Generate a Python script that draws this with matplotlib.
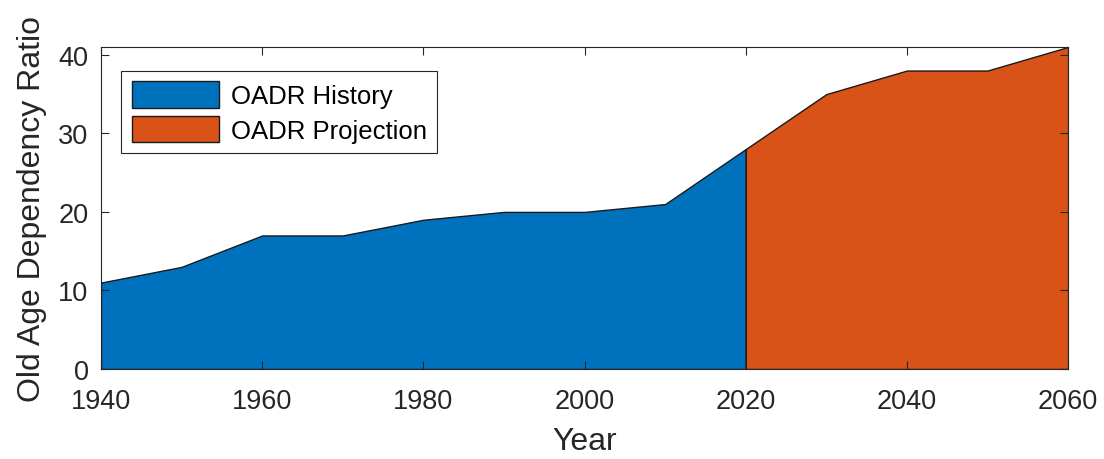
import numpy as np
import matplotlib.pyplot as plt

plt.rcParams['font.family'] = ['Liberation Sans', 'DejaVu Sans']

# history and projection of the old age dependency ratio
history_years = [1940, 1950, 1960, 1970, 1980, 1990, 2000, 2010, 2020]
history_oadr = [11, 13, 17, 17, 19, 20, 20, 21, 28]
projection_years = [2020, 2030, 2040, 2050, 2060]
projection_oadr = [28, 35, 38, 38, 41]

figure = plt.figure(figsize=(11.04, 4.6), dpi=100)
axis = figure.add_axes([0.0915, 0.1957, 0.876, 0.70])

axis.fill_between(history_years, history_oadr, 0, facecolor='#0072BD',
                  edgecolor='#1a1a1a', lw=1.0, label='OADR History')
axis.fill_between(projection_years, projection_oadr, 0, facecolor='#D95319',
                  edgecolor='#1a1a1a', lw=1.0, label='OADR Projection')

axis.set_xlim(1940, 2060)
axis.set_ylim(0, 41)
axis.set_xticks(range(1940, 2061, 20))
axis.set_yticks(range(0, 41, 10))
axis.tick_params(direction='in', top=True, right=True, labelsize=19.5,
                 length=6, width=0.8, colors='#262626')
axis.tick_params(axis='x', pad=14)
axis.tick_params(axis='y', pad=9)
for spine in axis.spines.values():
    spine.set_color('#262626')
    spine.set_linewidth(0.8)
axis.set_xlabel('Year', fontsize=23, color='#262626', labelpad=8)
axis.set_ylabel('Old Age Dependency Ratio', fontsize=23, color='#262626', labelpad=8)

legend = axis.legend(loc='upper left', bbox_to_anchor=(0.021, 0.925), fontsize=18.5,
                     fancybox=False, framealpha=1, edgecolor='#262626',
                     handlelength=3.4, handleheight=1.2, borderpad=0.4,
                     labelspacing=0.3, handletextpad=0.45, borderaxespad=0)
legend.get_frame().set_linewidth(0.8)

plt.savefig('out.png', dpi=100)
